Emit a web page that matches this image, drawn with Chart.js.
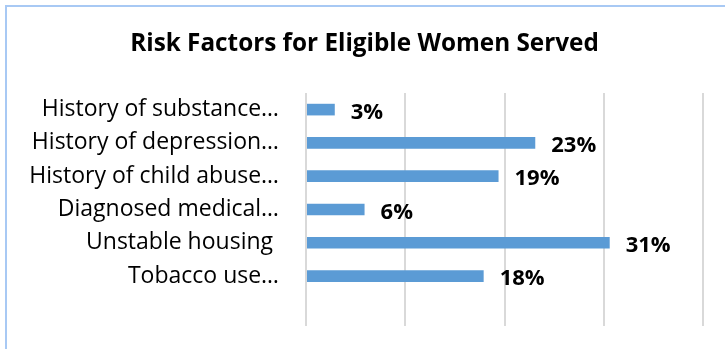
<!DOCTYPE html>
<html>
<head>
<meta charset="utf-8">
<script src="https://cdn.jsdelivr.net/npm/chart.js@4/dist/chart.umd.min.js"></script>
<style>
  html, body { margin: 0; padding: 0; background: #ffffff; overflow: hidden; }
  #frame { position: absolute; left: 5px; top: 5px; width: 900px; height: 500px;
           border-left: 2px solid #a8c9f4; border-top: 2px solid #a8c9f4; }
  #wrap { position: absolute; left: 0; top: 0; width: 725px; height: 349px; }
</style>
</head>
<body>
<div id="frame"></div>
<div id="wrap"><canvas id="c" width="725" height="349"></canvas></div>
<script>
const chartTitle = 'Risk Factors for Eligible Women Served';
const categories = [
  'History of substance…',
  'History of depression…',
  'History of child abuse…',
  'Diagnosed medical…',
  'Unstable housing ',
  'Tobacco use…',
  ''
];
const values = [2.9, 23.1, 19.4, 5.9, 30.6, 17.9, null];
const xTicks = [0, 10, 20, 30, 40];

const FONT = '"Open Sans"';

const valueLabels = {
  id: 'valueLabels',
  afterDatasetsDraw(chart) {
    const ctx = chart.ctx;
    const meta = chart.getDatasetMeta(0);
    ctx.save();
    ctx.font = 'bold 22px ' + FONT;
    ctx.fillStyle = '#000000';
    ctx.textAlign = 'left';
    ctx.textBaseline = 'middle';
    meta.data.forEach((bar, i) => {
      const v = values[i];
      if (v === null || v === undefined) return;
      ctx.fillText(Math.round(v) + '%', bar.x + 16, bar.y + 3);
    });
    ctx.restore();
  }
};

new Chart(document.getElementById('c'), {
  type: 'bar',
  data: {
    labels: categories,
    datasets: [{
      data: values,
      backgroundColor: '#5b9bd5',
      borderWidth: 0,
      categoryPercentage: 1,
      barPercentage: 0.35
    }]
  },
  options: {
    indexAxis: 'y',
    responsive: false,
    animation: false,
    layout: { padding: { left: 26, right: 22, top: 0, bottom: 23 } },
    plugins: {
      legend: { display: false },
      tooltip: { enabled: false },
      title: {
        display: true,
        text: chartTitle,
        color: '#000000',
        font: { family: FONT, size: 24.3, weight: 'bold' },
        padding: { top: 29, bottom: 34.8 }
      }
    },
    scales: {
      x: {
        min: xTicks[0],
        max: xTicks[xTicks.length - 1],
        afterBuildTicks(scale) { scale.ticks = xTicks.map(v => ({ value: v })); },
        ticks: { display: false },
        grid: { color: '#d9d9d9', lineWidth: 2, drawTicks: false },
        border: { display: false },
        afterFit(scale) { scale.height = 0; scale.paddingLeft = 0; scale.paddingRight = 0; }
      },
      y: {
        ticks: {
          color: '#000000',
          font: { family: FONT, size: 23 },
          padding: 27,
          autoSkip: false
        },
        grid: { display: false, drawTicks: false },
        border: { display: false },
        afterFit(scale) { scale.width = 280; scale.paddingTop = 0; scale.paddingBottom = 0; }
      }
    }
  },
  plugins: [valueLabels]
});
</script>
</body>
</html>
